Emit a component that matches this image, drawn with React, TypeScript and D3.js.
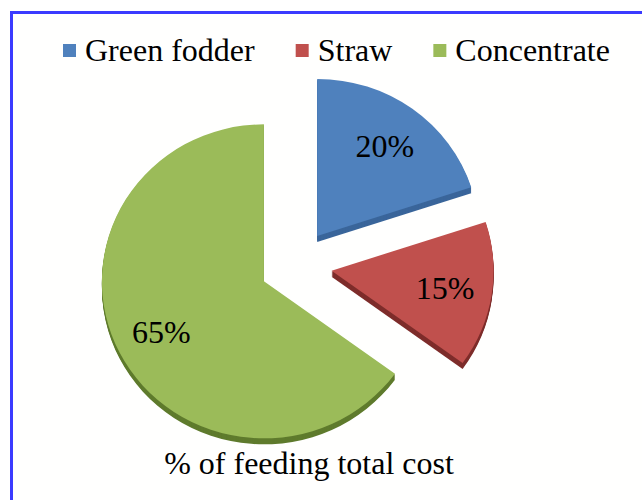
import React from "react";
import * as d3 from "d3";

const categories = ["Green fodder", "Straw", "Concentrate"];
const values = [20, 15, 65];
const labels = ["20%", "15%", "65%"];
const title = "% of feeding total cost";

const topColors = ["#4f81bd", "#c0504d", "#9bbb59"];
const sideColors = ["#3a659b", "#7e2d2b", "#5f7b2d"];

const W = 642;
const H = 500;
const FONT = "Liberation Serif, Times New Roman, DejaVu Serif, serif";
const FS = 32;

function measure(text: string): number {
  if (typeof document === "undefined") return text.length * 14;
  const c = document.createElement("canvas");
  const ctx = c.getContext("2d");
  if (!ctx) return text.length * 14;
  ctx.font = `${FS}px "Liberation Serif", serif`;
  return ctx.measureText(text).width;
}

const textStyle: React.CSSProperties = { fontFamily: FONT, fontSize: FS };

export default function App() {
  const cx = 296;
  const cy = 265;
  const rx = 162;
  const ry = 157;
  const explode = 36;
  const depth = 6;

  const pie = d3.pie<number>().sort(null).startAngle(0).endAngle(2 * Math.PI);
  const arcs = pie(values);
  const arc = d3.arc<d3.PieArcDatum<number>>().innerRadius(0).outerRadius(rx);
  const sy = ry / rx;

  const legendY = 61;
  const sq = 13;
  let lx = 63;
  const legendItems = categories.map((c, i) => {
    const item = { x: lx, label: c, color: topColors[i] };
    lx += 22 + measure(c) + 41;
    return item;
  });

  return (
    <svg
      width={W}
      height={H}
      style={{ position: "absolute", left: 0, top: 0, display: "block", background: "#ffffff" }}
    >
      <rect x={0} y={0} width={W} height={H} fill="#ffffff" />
      <rect x={11.5} y={12.5} width={W + 50} height={H + 50} fill="#fffffe" stroke="#3b3bff" strokeWidth={3} />

      {legendItems.map((it, i) => (
        <g key={i}>
          <rect x={it.x} y={legendY - 17} width={sq} height={sq} fill={it.color} />
          <text x={it.x + 22} y={legendY} style={textStyle} fill="#000">
            {it.label}
          </text>
        </g>
      ))}

      {arcs.map((a, i) => {
        const mid = (a.startAngle + a.endAngle) / 2;
        const dx = Math.sin(mid) * explode;
        const dy = -Math.cos(mid) * explode;
        const path = arc(a) || "";
        const layers = d3.range(depth, 0, -1);
        return (
          <g key={"s" + i} transform={`translate(${cx + dx},${cy + dy})`}>
            {layers.map((k) => (
              <path
                key={k}
                d={path}
                fill={sideColors[i]}
                transform={`translate(0,${k}) scale(1,${sy})`}
              />
            ))}
            <path d={path} fill={topColors[i]} transform={`scale(1,${sy})`} />
          </g>
        );
      })}

      {arcs.map((a, i) => {
        const mid = (a.startAngle + a.endAngle) / 2;
        const dx = Math.sin(mid) * explode;
        const dy = -Math.cos(mid) * explode;
        const lr = rx * 0.71;
        const x = cx + dx + Math.sin(mid) * lr;
        const y = cy + dy - Math.cos(mid) * lr * sy;
        return (
          <text
            key={"l" + i}
            x={x}
            y={y}
            dy="0.35em"
            textAnchor="middle"
            style={textStyle}
            fill="#000"
          >
            {labels[i]}
          </text>
        );
      })}

      <text x={309} y={474} textAnchor="middle" style={textStyle} fill="#000">
        {title}
      </text>
    </svg>
  );
}
